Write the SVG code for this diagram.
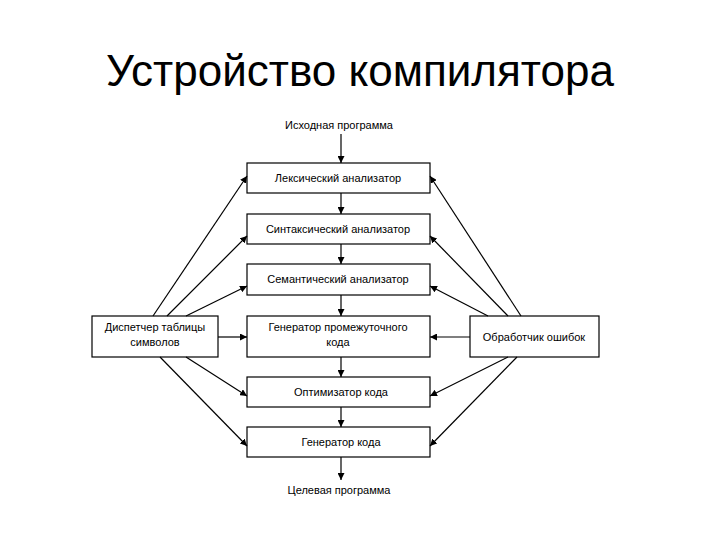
<svg xmlns="http://www.w3.org/2000/svg" width="720" height="540" viewBox="0 0 720 540">
<style>
.b{fill:#fff;stroke:#000;stroke-width:1.2}
.t{font-family:"Liberation Sans",Arial,sans-serif;font-size:11px;text-anchor:middle;fill:#000}
.c line{stroke:#000;stroke-width:1.2;marker-end:url(#a)}
</style>
<defs><marker id="a" viewBox="0 0 10 10" refX="10" refY="5" markerWidth="7" markerHeight="7" markerUnits="userSpaceOnUse" orient="auto"><path d="M0,0L10,5L0,10z" fill="#000"/></marker></defs>
<rect width="720" height="540" fill="#fff"/>
<text x="360" y="86" style="font-family:'Liberation Sans',Arial,sans-serif;font-size:44px;text-anchor:middle">Устройство компилятора</text>
<text class="t" x="339" y="129">Исходная программа</text>
<g id="n1"><rect class="b" x="247" y="163" width="183" height="30"/><text class="t" x="338" y="182">Лексический анализатор</text></g>
<g id="n2"><rect class="b" x="247" y="214" width="183" height="30"/><text class="t" x="338" y="233">Синтаксический анализатор</text></g>
<g id="n3"><rect class="b" x="247" y="264" width="183" height="31"/><text class="t" x="338" y="283">Семантический анализатор</text></g>
<g id="n4"><rect class="b" x="247" y="316" width="183" height="41"/><text class="t" x="338" y="331">Генератор промежуточного</text><text class="t" x="338" y="346">кода</text></g>
<g id="n5"><rect class="b" x="247" y="377" width="183" height="30"/><text class="t" x="341" y="396">Оптимизатор кода</text></g>
<g id="n6"><rect class="b" x="247" y="427" width="183" height="30"/><text class="t" x="341" y="446">Генератор кода</text></g>
<g id="sym"><rect class="b" x="92" y="316" width="126" height="41"/><text class="t" x="155" y="331">Диспетчер таблицы</text><text class="t" x="155" y="346">символов</text></g>
<g id="err"><rect class="b" x="470" y="316" width="129" height="41"/><text class="t" x="534" y="341">Обработчик ошибок</text></g>
<text class="t" x="339" y="494">Целевая программа</text>
<g class="c">
<line x1="341" y1="134" x2="341" y2="163"/>
<line x1="341" y1="193" x2="341" y2="214"/>
<line x1="341" y1="244" x2="341" y2="264"/>
<line x1="341" y1="295" x2="341" y2="316"/>
<line x1="341" y1="357" x2="341" y2="377"/>
<line x1="341" y1="407" x2="341" y2="427"/>
<line x1="341" y1="457" x2="341" y2="480"/>
<line x1="153" y1="316" x2="247" y2="176"/>
<line x1="167" y1="316" x2="247" y2="236"/>
<line x1="186" y1="316" x2="247" y2="286"/>
<line x1="218" y1="337" x2="247" y2="337"/>
<line x1="186" y1="357" x2="247" y2="396"/>
<line x1="160" y1="357" x2="247" y2="446"/>
<line x1="521" y1="316" x2="430" y2="176"/>
<line x1="508" y1="316" x2="430" y2="236"/>
<line x1="488" y1="316" x2="430" y2="286"/>
<line x1="470" y1="337" x2="430" y2="337"/>
<line x1="508" y1="357" x2="430" y2="396"/>
<line x1="517" y1="357" x2="430" y2="446"/>
</g>
</svg>
